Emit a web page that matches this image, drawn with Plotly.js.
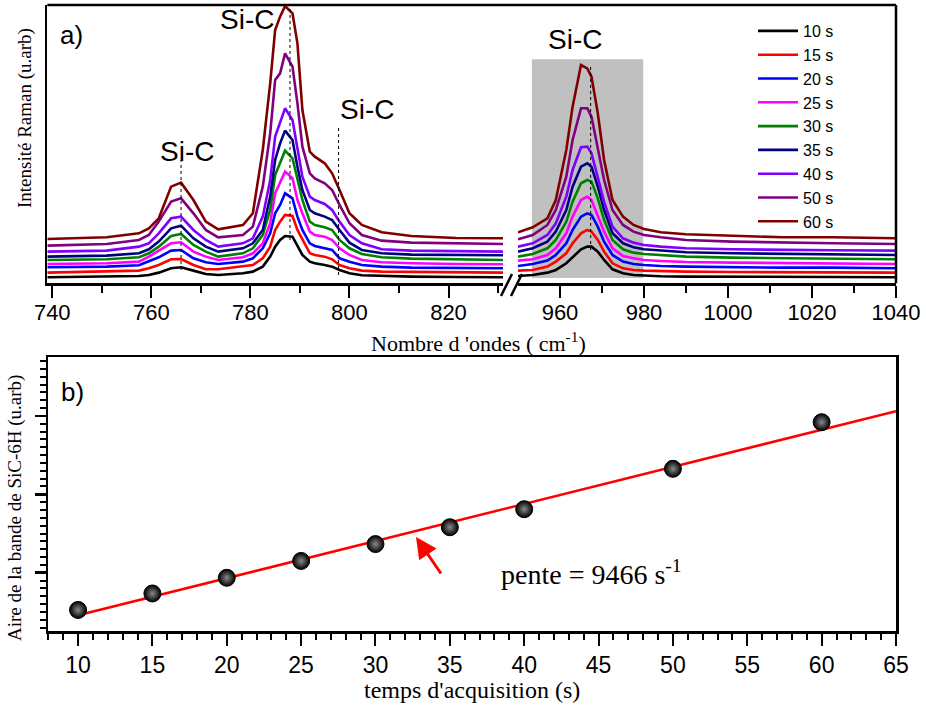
<!DOCTYPE html>
<html>
<head>
<meta charset="utf-8">
<script src="https://cdn.plot.ly/plotly-3.0.1.min.js"></script>
<style>html,body{margin:0;padding:0;background:#fff;}#chart{width:926px;height:709px;}</style>
</head>
<body>
<div id="chart"></div>
<script>
// ---------- Panel a) Raman spectra (intensity, arbitrary units) ----------
const seriesNames = ['10 s','15 s','20 s','25 s','30 s','35 s','40 s','50 s','60 s'];
const seriesColors = ['#000000','#ff0000','#0000ff','#ff00ff','#008000','#000080','#8000ff','#800080','#800000'];

// left part of the broken axis (cm-1)
const waveLeft = [739, 751, 757.5, 759.5, 761.5, 764, 766, 768.5, 771, 773.5, 778.5, 780.5, 782.5, 784, 785, 786, 787, 788.5, 789.5, 790.5, 792, 793, 795, 796.5, 798, 800, 802.5, 806.5, 812.5, 821.5, 831];
const i10L = [18,20,22,25,32,45,48,38,28,25,30,35,50,80,110,130,142,140,110,85,65,60,55,50,40,30,24,22,20,19,18];
const i15L = [32,35,38,45,55,72,73,55,42,42,50,55,75,110,160,185,205,202,160,130,90,85,80,72,55,45,38,35,34,33,32];
const i20L = [48,50,54,65,78,98,100,75,63,58,65,75,105,150,210,235,270,255,200,160,120,112,105,100,75,65,55,50,47,46,45];
const i25L = [58,60,65,80,98,120,123,95,80,70,78,90,120,180,270,300,335,315,250,210,155,145,140,130,105,85,70,63,60,58,57];
const i30L = [70,72,78,90,110,142,148,115,95,80,90,105,145,220,325,360,398,375,310,250,185,175,168,160,130,105,88,78,74,72,70];
const i35L = [80,83,90,102,125,165,173,135,110,95,105,120,160,260,370,420,458,430,350,280,220,210,200,190,160,122,100,90,86,85,84];
const i40L = [95,98,110,120,150,195,200,160,130,110,120,135,200,310,440,480,525,490,400,320,260,250,238,220,185,145,120,102,98,97,95];
const i50L = [113,118,130,145,185,245,255,210,160,138,145,170,290,450,610,630,690,650,540,410,330,315,300,280,235,180,145,128,122,120,118];
const i60L = [133,138,150,165,195,290,302,250,185,162,175,210,400,600,760,800,832,810,720,520,395,380,360,330,280,210,175,153,142,136,135];

// right part of the broken axis (cm-1)
const waveRight = [950, 953.5, 957, 959, 961.5, 963, 965, 966.5, 967.5, 969, 970.5, 972.5, 975, 977.5, 980, 984, 990, 1001, 1013, 1025, 1040];
const i10R = [22,25,32,40,60,78,102,110,110,95,70,42,30,25,23,21,20,19,19,19,18];
const i15R = [38,40,50,65,90,120,150,160,155,130,95,60,45,40,38,36,35,34,34,33,32];
const i20R = [52,58,68,85,120,160,200,210,205,170,125,85,65,58,55,52,50,48,47,47,45];
const i25R = [68,72,85,105,150,200,250,260,250,205,155,105,82,75,70,67,64,62,61,60,58];
const i30R = [80,88,105,130,185,245,300,310,305,255,190,130,102,92,88,84,80,77,75,74,72];
const i35R = [95,105,125,155,220,290,350,360,350,290,220,150,120,108,102,98,93,90,88,87,85];
const i40R = [110,120,145,180,260,340,408,410,390,320,245,170,135,122,115,110,105,102,100,99,98];
const i50R = [132,145,175,220,320,430,525,525,500,410,310,220,175,155,145,138,130,125,122,120,118];
const i60R = [153,168,195,250,400,530,655,645,620,510,370,250,200,175,163,153,147,142,138,138,135];

const leftSets = [i10L,i15L,i20L,i25L,i30L,i35L,i40L,i50L,i60L];
const rightSets = [i10R,i15R,i20R,i25R,i30R,i35R,i40R,i50R,i60R];

const topTicksLeft = [740, 760, 780, 800, 820];
const topTicksRight = [960, 980, 1000, 1020, 1040];

// ---------- Panel b) band area vs acquisition time ----------
const acqTime = [10, 15, 20, 25, 30, 35, 40, 50, 60];
const bandArea = [105000, 147000, 187000, 230000, 273000, 316000, 362000, 465000, 584000];
const slope = 9466; // s^-1, from the figure
const fitRange = [10, 65];

// ---------- build traces ----------
const traces = [];
for (let k = 0; k < seriesNames.length; k++) {
  traces.push({
    x: waveLeft, y: leftSets[k], type: 'scatter', mode: 'lines',
    name: seriesNames[k], legendgroup: seriesNames[k],
    line: {color: seriesColors[k], width: 2.6},
    xaxis: 'x', yaxis: 'y', hoverinfo: 'skip'
  });
  traces.push({
    x: waveRight, y: rightSets[k], type: 'scatter', mode: 'lines',
    name: seriesNames[k], legendgroup: seriesNames[k], showlegend: false,
    line: {color: seriesColors[k], width: 2.6},
    xaxis: 'x2', yaxis: 'y', hoverinfo: 'skip'
  });
}
// linear fit with the stated slope through the data centroid
const meanT = acqTime.reduce((a,b)=>a+b,0)/acqTime.length;
const meanA = bandArea.reduce((a,b)=>a+b,0)/bandArea.length;
const intercept = meanA - slope*meanT;
traces.push({
  x: fitRange, y: fitRange.map(t => slope*t + intercept), type: 'scatter', mode: 'lines',
  line: {color: '#ff0000', width: 2.5}, xaxis: 'x3', yaxis: 'y3', showlegend: false, hoverinfo: 'skip'
});
traces.push({
  x: acqTime, y: bandArea, type: 'scatter', mode: 'markers',
  marker: {size: 17, color: '#000000', line: {color: '#000000', width: 1},
           gradient: {type: 'radial', color: '#8a8a8a'}},
  xaxis: 'x3', yaxis: 'y3', showlegend: false, hoverinfo: 'skip'
});

// ---------- layout ----------
const W = 926, H = 709;
const px = v => v / W;
const py = v => 1 - v / H;
const TOPL = px(47.3), TOPR = px(896), BRK1 = px(503), BRK2 = px(518);
const TOPY0 = py(283.3), TOPY1 = py(5);
const BOTY0 = py(631), BOTY1 = py(357.3);

const sans = {family: '"Liberation Sans", Arial, sans-serif', color: '#000'};
const serif = {family: '"Liberation Serif", "Times New Roman", serif', color: '#000'};
const f = (base, size) => Object.assign({}, base, {size: size});

function label(text, x, y, font, extra) {
  return Object.assign({text: text, xref: 'paper', yref: 'paper', x: px(x), y: py(y),
    xanchor: 'center', yanchor: 'middle', showarrow: false, font: font}, extra || {});
}

const layout = {
  width: W, height: H, autosize: false,
  margin: {l: 0, r: 0, t: 0, b: 0, pad: 0},
  paper_bgcolor: '#ffffff', plot_bgcolor: 'rgba(0,0,0,0)',
  showlegend: true,
  legend: {
    x: px(753), y: py(14), xanchor: 'left', yanchor: 'top',
    bgcolor: 'rgba(0,0,0,0)', borderwidth: 0, itemwidth: 40,
    font: f(sans, 16), tracegroupgap: 0
  },
  xaxis: {
    domain: [TOPL, BRK1], range: [739, 831], anchor: 'y',
    showline: true, linecolor: '#000', linewidth: 2.5, mirror: false,
    showgrid: false, zeroline: false,
    tickmode: 'array', tickvals: topTicksLeft, ticktext: topTicksLeft.map(String),
    ticks: 'outside', ticklen: 12, tickwidth: 2, tickcolor: '#000',
    tickfont: f(sans, 22), ticklabelstandoff: -4,
    minor: {tickmode: 'array', tickvals: [750, 770, 790, 810, 830], ticks: 'outside', ticklen: 7, tickwidth: 2, tickcolor: '#000', showgrid: false}
  },
  xaxis2: {
    domain: [BRK2, TOPR], range: [950, 1040], anchor: 'y',
    showline: true, linecolor: '#000', linewidth: 2.5,
    showgrid: false, zeroline: false,
    tickmode: 'array', tickvals: topTicksRight, ticktext: topTicksRight.map(String),
    ticks: 'outside', ticklen: 12, tickwidth: 2, tickcolor: '#000',
    tickfont: f(sans, 22), ticklabelstandoff: -4,
    minor: {tickmode: 'array', tickvals: [970, 990, 1010, 1030], ticks: 'outside', ticklen: 7, tickwidth: 2, tickcolor: '#000', showgrid: false}
  },
  yaxis: {
    domain: [TOPY0, TOPY1], range: [0, 835], anchor: 'x',
    showline: true, linecolor: '#000', linewidth: 2.5,
    showgrid: false, zeroline: false, showticklabels: false, ticks: ''
  },
  xaxis3: {
    domain: [px(48.3), TOPR], range: [8, 65], anchor: 'y3',
    showline: true, linecolor: '#000', linewidth: 2.5, mirror: true,
    showgrid: false, zeroline: false,
    tickmode: 'linear', tick0: 0, dtick: 5,
    ticks: 'outside', ticklen: 12, tickwidth: 2, tickcolor: '#000',
    tickfont: f(sans, 23),
    minor: {dtick: 1, ticks: 'outside', ticklen: 6, tickwidth: 2, tickcolor: '#000', showgrid: false}
  },
  yaxis3: {
    domain: [BOTY0, BOTY1], range: [51300, 749500], anchor: 'x3',
    showline: true, linecolor: '#000', linewidth: 2.5, mirror: true,
    showgrid: false, zeroline: false, showticklabels: false,
    tickmode: 'linear', tick0: 0, dtick: 200000,
    ticks: 'outside', ticklen: 11, tickwidth: 2.5, tickcolor: '#000',
    minor: {dtick: 20000, ticks: 'outside', ticklen: 6, tickwidth: 2, tickcolor: '#000', showgrid: false}
  },
  shapes: [
    // grey highlight band behind the 967 cm-1 peak
    {type: 'rect', xref: 'x2', yref: 'y', x0: 953.3, x1: 979.8, y0: 16, y1: 672,
     fillcolor: '#c0c0c0', line: {width: 0}, layer: 'below'},
    // top and right frame of panel a)
    {type: 'line', xref: 'paper', yref: 'paper', x0: TOPL, x1: TOPR, y0: TOPY1, y1: TOPY1, line: {color: '#000', width: 2.5}},
    {type: 'line', xref: 'paper', yref: 'paper', x0: TOPR, x1: TOPR, y0: TOPY0, y1: TOPY1, line: {color: '#000', width: 2.5}},
    // axis break marks
    {type: 'line', xref: 'paper', yref: 'paper', x0: px(501), x1: px(512), y0: py(296), y1: py(274), line: {color: '#000', width: 2.5}},
    {type: 'line', xref: 'paper', yref: 'paper', x0: px(511), x1: px(522), y0: py(296), y1: py(274), line: {color: '#000', width: 2.5}},
    // dotted peak markers
    {type: 'line', xref: 'x', yref: 'y', x0: 766, x1: 766, y0: 40, y1: 370, line: {color: '#000', width: 1, dash: 'dot'}},
    {type: 'line', xref: 'x', yref: 'y', x0: 788, x1: 788, y0: 130, y1: 830, line: {color: '#000', width: 1, dash: 'dot'}},
    {type: 'line', xref: 'x', yref: 'y', x0: 797.8, x1: 797.8, y0: 25, y1: 475, line: {color: '#000', width: 1, dash: 'dot'}},
    {type: 'line', xref: 'x2', yref: 'y', x0: 967.3, x1: 967.3, y0: 100, y1: 655, line: {color: '#000', width: 1, dash: 'dot'}}
  ],
  annotations: [
    label('a)', 71, 35, f(sans, 26)),
    label('b)', 72, 392, f(sans, 26)),
    label('Si-C', 187, 151, f(sans, 28)),
    label('Si-C', 247, 20, f(sans, 28)),
    label('Si-C', 367, 110, f(sans, 28)),
    label('Si-C', 575, 39, f(sans, 28)),
    label('Intensité Raman (u.arb)', 25, 118, f(serif, 19), {textangle: -90}),
    label("Nombre d 'ondes ( cm<sup>-1</sup>)", 478, 342, f(serif, 22)),
    label('Aire de la bande de SiC-6H (u.arb)', 15, 508, f(serif, 19), {textangle: -90}),
    label("temps d'acquisition (s)", 472, 690, f(serif, 24)),
    label('pente = 9466 s<sup>-1</sup>', 499, 572, f(serif, 28), {xanchor: 'left'}),
    {text: '', xref: 'paper', yref: 'paper', x: px(416), y: py(537), showarrow: true, ax: 26, ay: 38,
     arrowhead: 2, arrowsize: 1.4, arrowwidth: 3, arrowcolor: '#ff0000'}
  ]
};

Plotly.newPlot('chart', traces, layout, {staticPlot: true, displayModeBar: false});
</script>
</body>
</html>
